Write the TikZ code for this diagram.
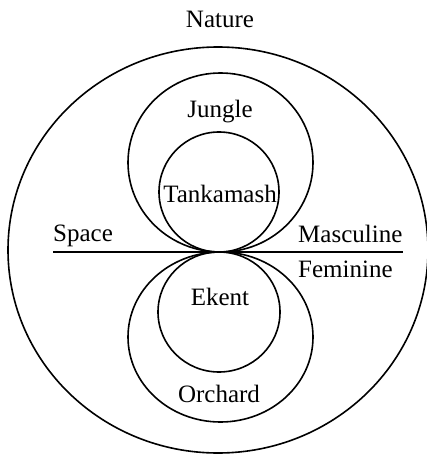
\documentclass[tikz,border=0pt]{standalone}
\usepackage{fontspec}
\setmainfont{Liberation Serif}
\begin{document}
\begin{tikzpicture}[x=1pt,y=-1pt,
  ring/.style={draw=black,line width=1.6pt},
  lbl/.style={font=\fontsize{25}{29}\selectfont,inner sep=0pt}]
\useasboundingbox (0,0) rectangle (427,454);
\draw[ring] (218,250) ellipse [x radius=210, y radius=203];
\draw[ring] (220.5,162.5) ellipse [x radius=92.5, y radius=89.5];
\draw[ring] (219,192) circle [radius=60];
\draw[ring] (220.5,337) ellipse [x radius=92.5, y radius=85];
\draw[ring] (219,312) ellipse [x radius=61, y radius=60];
\coordinate (L) at (53,252);
\coordinate (R) at (403,252);
\draw[line width=2pt] (L) -- (R);
\node[lbl,anchor=base] (nature) at (220,28) {Nature};
\node[lbl,anchor=base] (jungle) at (220,118) {Jungle};
\node[lbl,anchor=base] (tank) at (220,202) {Tankamash};
\node[lbl,anchor=base west] (space) at (53,241) {Space};
\node[lbl,anchor=base west] (masc) at (298,242) {Masculine};
\node[lbl,anchor=base west] (fem) at (298,277) {Feminine};
\node[lbl,anchor=base] (ekent) at (220,305) {Ekent};
\node[lbl,anchor=base] (orch) at (219,402) {Orchard};
\end{tikzpicture}
\end{document}
